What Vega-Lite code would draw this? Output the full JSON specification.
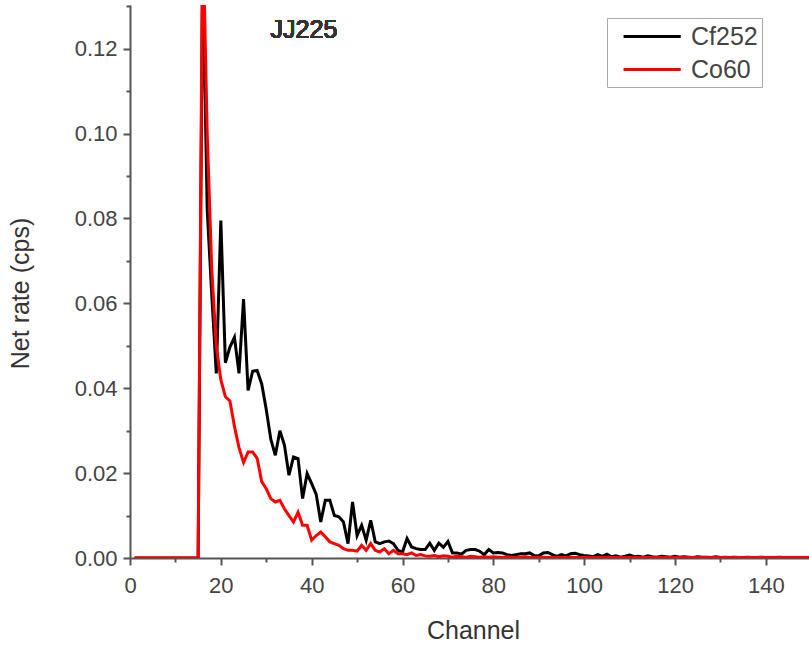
{
  "$schema": "https://vega.github.io/schema/vega-lite/v6.json",
  "autosize": {"type": "none"},
  "padding": {"left": 130, "top": 5, "right": 0, "bottom": 90},
  "width": 679,
  "height": 553,
  "background": "white",
  "config": {
    "font": "Liberation Sans",
    "view": {"stroke": null},
    "axis": {
      "domainColor": "#555",
      "domainWidth": 2,
      "tickColor": "#555",
      "tickWidth": 2,
      "grid": false,
      "labelFont": "Liberation Sans",
      "labelFontSize": 22,
      "labelColor": "#444",
      "labelFlush": false,
      "titleFont": "Liberation Sans",
      "titleFontSize": 25,
      "titleFontWeight": "normal",
      "titleColor": "#333"
    }
  },
  "datasets": {
    "spec": [
      {"ch":1,"series":"Cf252","rate":0},{"ch":2,"series":"Cf252","rate":0},{"ch":3,"series":"Cf252","rate":0},{"ch":4,"series":"Cf252","rate":0},{"ch":5,"series":"Cf252","rate":0},
      {"ch":6,"series":"Cf252","rate":0},{"ch":7,"series":"Cf252","rate":0},{"ch":8,"series":"Cf252","rate":0},{"ch":9,"series":"Cf252","rate":0},{"ch":10,"series":"Cf252","rate":0},
      {"ch":11,"series":"Cf252","rate":0},{"ch":12,"series":"Cf252","rate":0},{"ch":13,"series":"Cf252","rate":0},{"ch":14,"series":"Cf252","rate":0},{"ch":15,"series":"Cf252","rate":0},
      {"ch":16,"series":"Cf252","rate":0.14},{"ch":17,"series":"Cf252","rate":0.082},{"ch":18,"series":"Cf252","rate":0.062},{"ch":19,"series":"Cf252","rate":0.0435},{"ch":20,"series":"Cf252","rate":0.0795},
      {"ch":21,"series":"Cf252","rate":0.046},{"ch":22,"series":"Cf252","rate":0.0497},{"ch":23,"series":"Cf252","rate":0.052},{"ch":24,"series":"Cf252","rate":0.0435},{"ch":25,"series":"Cf252","rate":0.061},
      {"ch":26,"series":"Cf252","rate":0.0395},{"ch":27,"series":"Cf252","rate":0.044},{"ch":28,"series":"Cf252","rate":0.0442},{"ch":29,"series":"Cf252","rate":0.041},{"ch":30,"series":"Cf252","rate":0.035},
      {"ch":31,"series":"Cf252","rate":0.028},{"ch":32,"series":"Cf252","rate":0.0242},{"ch":33,"series":"Cf252","rate":0.030},{"ch":34,"series":"Cf252","rate":0.0266},{"ch":35,"series":"Cf252","rate":0.0195},
      {"ch":36,"series":"Cf252","rate":0.0238},{"ch":37,"series":"Cf252","rate":0.0234},{"ch":38,"series":"Cf252","rate":0.014},{"ch":39,"series":"Cf252","rate":0.0199},{"ch":40,"series":"Cf252","rate":0.0175},
      {"ch":41,"series":"Cf252","rate":0.015},{"ch":42,"series":"Cf252","rate":0.0085},{"ch":43,"series":"Cf252","rate":0.0136},{"ch":44,"series":"Cf252","rate":0.0136},{"ch":45,"series":"Cf252","rate":0.010},
      {"ch":46,"series":"Cf252","rate":0.0097},{"ch":47,"series":"Cf252","rate":0.0085},{"ch":48,"series":"Cf252","rate":0.0034},{"ch":49,"series":"Cf252","rate":0.0132},{"ch":50,"series":"Cf252","rate":0.0053},
      {"ch":51,"series":"Cf252","rate":0.0077},{"ch":52,"series":"Cf252","rate":0.0042},{"ch":53,"series":"Cf252","rate":0.0089},{"ch":54,"series":"Cf252","rate":0.0038},{"ch":55,"series":"Cf252","rate":0.0034},
      {"ch":56,"series":"Cf252","rate":0.0038},{"ch":57,"series":"Cf252","rate":0.004},{"ch":58,"series":"Cf252","rate":0.0034},{"ch":59,"series":"Cf252","rate":0.0018},{"ch":60,"series":"Cf252","rate":0.0014},
      {"ch":61,"series":"Cf252","rate":0.0046},{"ch":62,"series":"Cf252","rate":0.0026},{"ch":63,"series":"Cf252","rate":0.0022},{"ch":64,"series":"Cf252","rate":0.002},{"ch":65,"series":"Cf252","rate":0.002},
      {"ch":66,"series":"Cf252","rate":0.0035},{"ch":67,"series":"Cf252","rate":0.0018},{"ch":68,"series":"Cf252","rate":0.0035},{"ch":69,"series":"Cf252","rate":0.0025},{"ch":70,"series":"Cf252","rate":0.0039},
      {"ch":71,"series":"Cf252","rate":0.0012},{"ch":72,"series":"Cf252","rate":0.0012},{"ch":73,"series":"Cf252","rate":0.0009},{"ch":74,"series":"Cf252","rate":0.0018},{"ch":75,"series":"Cf252","rate":0.002},
      {"ch":76,"series":"Cf252","rate":0.002},{"ch":77,"series":"Cf252","rate":0.0016},{"ch":78,"series":"Cf252","rate":0.0008},{"ch":79,"series":"Cf252","rate":0.002},{"ch":80,"series":"Cf252","rate":0.0012},
      {"ch":81,"series":"Cf252","rate":0.0013},{"ch":82,"series":"Cf252","rate":0.0012},{"ch":83,"series":"Cf252","rate":0.0008},{"ch":84,"series":"Cf252","rate":0.0006},{"ch":85,"series":"Cf252","rate":0.0008},
      {"ch":86,"series":"Cf252","rate":0.001},{"ch":87,"series":"Cf252","rate":0.001},{"ch":88,"series":"Cf252","rate":0.0012},{"ch":89,"series":"Cf252","rate":0.0006},{"ch":90,"series":"Cf252","rate":0.0005},
      {"ch":91,"series":"Cf252","rate":0.0012},{"ch":92,"series":"Cf252","rate":0.0013},{"ch":93,"series":"Cf252","rate":0.0008},{"ch":94,"series":"Cf252","rate":0.0004},{"ch":95,"series":"Cf252","rate":0.0008},
      {"ch":96,"series":"Cf252","rate":0.0005},{"ch":97,"series":"Cf252","rate":0.001},{"ch":98,"series":"Cf252","rate":0.0011},{"ch":99,"series":"Cf252","rate":0.0008},{"ch":100,"series":"Cf252","rate":0.0006},
      {"ch":101,"series":"Cf252","rate":0.0005},{"ch":102,"series":"Cf252","rate":0.0003},{"ch":103,"series":"Cf252","rate":0.0008},{"ch":104,"series":"Cf252","rate":0.0004},{"ch":105,"series":"Cf252","rate":0.0009},
      {"ch":106,"series":"Cf252","rate":0.0003},{"ch":107,"series":"Cf252","rate":0.0005},{"ch":108,"series":"Cf252","rate":0.0002},{"ch":109,"series":"Cf252","rate":0.0004},{"ch":110,"series":"Cf252","rate":0.0007},
      {"ch":111,"series":"Cf252","rate":0.0003},{"ch":112,"series":"Cf252","rate":0.0004},{"ch":113,"series":"Cf252","rate":0.0002},{"ch":114,"series":"Cf252","rate":0.0005},{"ch":115,"series":"Cf252","rate":0.0003},
      {"ch":116,"series":"Cf252","rate":0.0002},{"ch":117,"series":"Cf252","rate":0.0004},{"ch":118,"series":"Cf252","rate":0.0003},{"ch":119,"series":"Cf252","rate":0.0002},{"ch":120,"series":"Cf252","rate":0.0004},
      {"ch":121,"series":"Cf252","rate":0.0002},{"ch":122,"series":"Cf252","rate":0.0003},{"ch":123,"series":"Cf252","rate":0.0002},{"ch":124,"series":"Cf252","rate":0.0001},{"ch":125,"series":"Cf252","rate":0.0003},
      {"ch":126,"series":"Cf252","rate":0.0002},{"ch":127,"series":"Cf252","rate":0.0002},{"ch":128,"series":"Cf252","rate":0.0001},{"ch":129,"series":"Cf252","rate":0.0003},{"ch":130,"series":"Cf252","rate":0.0001},
      {"ch":131,"series":"Cf252","rate":0.0002},{"ch":132,"series":"Cf252","rate":0.0001},{"ch":133,"series":"Cf252","rate":0.0002},{"ch":134,"series":"Cf252","rate":0.0001},{"ch":135,"series":"Cf252","rate":0.0001},
      {"ch":136,"series":"Cf252","rate":0.0002},{"ch":137,"series":"Cf252","rate":0.0001},{"ch":138,"series":"Cf252","rate":0.0001},{"ch":139,"series":"Cf252","rate":0.0002},{"ch":140,"series":"Cf252","rate":0.0001},
      {"ch":141,"series":"Cf252","rate":0.0001},{"ch":142,"series":"Cf252","rate":0.0001},{"ch":143,"series":"Cf252","rate":0.0002},{"ch":144,"series":"Cf252","rate":0.0001},{"ch":145,"series":"Cf252","rate":0.0001},
      {"ch":146,"series":"Cf252","rate":0.0001},{"ch":147,"series":"Cf252","rate":0.0001},{"ch":148,"series":"Cf252","rate":0.0001},{"ch":149,"series":"Cf252","rate":0.0001},{"ch":150,"series":"Cf252","rate":0.0001},

      {"ch":1,"series":"Co60","rate":0},{"ch":2,"series":"Co60","rate":0},{"ch":3,"series":"Co60","rate":0},{"ch":4,"series":"Co60","rate":0},{"ch":5,"series":"Co60","rate":0},
      {"ch":6,"series":"Co60","rate":0},{"ch":7,"series":"Co60","rate":0},{"ch":8,"series":"Co60","rate":0},{"ch":9,"series":"Co60","rate":0},{"ch":10,"series":"Co60","rate":0},
      {"ch":11,"series":"Co60","rate":0},{"ch":12,"series":"Co60","rate":0},{"ch":13,"series":"Co60","rate":0},{"ch":14,"series":"Co60","rate":0},{"ch":15,"series":"Co60","rate":0},
      {"ch":16,"series":"Co60","rate":0.15},{"ch":17,"series":"Co60","rate":0.1},{"ch":18,"series":"Co60","rate":0.068},{"ch":19,"series":"Co60","rate":0.05},{"ch":20,"series":"Co60","rate":0.042},
      {"ch":21,"series":"Co60","rate":0.038},{"ch":22,"series":"Co60","rate":0.037},{"ch":23,"series":"Co60","rate":0.031},{"ch":24,"series":"Co60","rate":0.026},{"ch":25,"series":"Co60","rate":0.0225},
      {"ch":26,"series":"Co60","rate":0.025},{"ch":27,"series":"Co60","rate":0.025},{"ch":28,"series":"Co60","rate":0.0235},{"ch":29,"series":"Co60","rate":0.018},{"ch":30,"series":"Co60","rate":0.0163},
      {"ch":31,"series":"Co60","rate":0.014},{"ch":32,"series":"Co60","rate":0.0132},{"ch":33,"series":"Co60","rate":0.0136},{"ch":34,"series":"Co60","rate":0.0116},{"ch":35,"series":"Co60","rate":0.010},
      {"ch":36,"series":"Co60","rate":0.0085},{"ch":37,"series":"Co60","rate":0.0108},{"ch":38,"series":"Co60","rate":0.0077},{"ch":39,"series":"Co60","rate":0.0077},{"ch":40,"series":"Co60","rate":0.0042},
      {"ch":41,"series":"Co60","rate":0.0053},{"ch":42,"series":"Co60","rate":0.0061},{"ch":43,"series":"Co60","rate":0.005},{"ch":44,"series":"Co60","rate":0.0038},{"ch":45,"series":"Co60","rate":0.0034},
      {"ch":46,"series":"Co60","rate":0.003},{"ch":47,"series":"Co60","rate":0.0022},{"ch":48,"series":"Co60","rate":0.0018},{"ch":49,"series":"Co60","rate":0.0018},{"ch":50,"series":"Co60","rate":0.0016},
      {"ch":51,"series":"Co60","rate":0.003},{"ch":52,"series":"Co60","rate":0.0018},{"ch":53,"series":"Co60","rate":0.0034},{"ch":54,"series":"Co60","rate":0.0018},{"ch":55,"series":"Co60","rate":0.0014},
      {"ch":56,"series":"Co60","rate":0.0022},{"ch":57,"series":"Co60","rate":0.001},{"ch":58,"series":"Co60","rate":0.0018},{"ch":59,"series":"Co60","rate":0.001},{"ch":60,"series":"Co60","rate":0.001},
      {"ch":61,"series":"Co60","rate":0.0008},{"ch":62,"series":"Co60","rate":0.0012},{"ch":63,"series":"Co60","rate":0.0006},{"ch":64,"series":"Co60","rate":0.0008},{"ch":65,"series":"Co60","rate":0.0005},
      {"ch":66,"series":"Co60","rate":0.0004},{"ch":67,"series":"Co60","rate":0.0006},{"ch":68,"series":"Co60","rate":0.0003},{"ch":69,"series":"Co60","rate":0.0005},{"ch":70,"series":"Co60","rate":0.0004},
      {"ch":71,"series":"Co60","rate":0.0002},{"ch":72,"series":"Co60","rate":0.0004},{"ch":73,"series":"Co60","rate":0.0003},{"ch":74,"series":"Co60","rate":0.0002},{"ch":75,"series":"Co60","rate":0.0004},
      {"ch":76,"series":"Co60","rate":0.0003},{"ch":77,"series":"Co60","rate":0.0002},{"ch":78,"series":"Co60","rate":0.0003},{"ch":79,"series":"Co60","rate":0.0002},{"ch":80,"series":"Co60","rate":0.0003},
      {"ch":81,"series":"Co60","rate":0.0002},{"ch":82,"series":"Co60","rate":0.0001},{"ch":83,"series":"Co60","rate":0.0003},{"ch":84,"series":"Co60","rate":0.0002},{"ch":85,"series":"Co60","rate":0.0001},
      {"ch":86,"series":"Co60","rate":0.0002},{"ch":87,"series":"Co60","rate":0.0003},{"ch":88,"series":"Co60","rate":0.0001},{"ch":89,"series":"Co60","rate":0.0002},{"ch":90,"series":"Co60","rate":0.0001},
      {"ch":91,"series":"Co60","rate":0.0002},{"ch":92,"series":"Co60","rate":0.0001},{"ch":93,"series":"Co60","rate":0.0001},{"ch":94,"series":"Co60","rate":0.0002},{"ch":95,"series":"Co60","rate":0.0001},
      {"ch":96,"series":"Co60","rate":0.0001},{"ch":97,"series":"Co60","rate":0.0002},{"ch":98,"series":"Co60","rate":0.0001},{"ch":99,"series":"Co60","rate":0.0001},{"ch":100,"series":"Co60","rate":0.0001},
      {"ch":101,"series":"Co60","rate":0.0002},{"ch":102,"series":"Co60","rate":0.0001},{"ch":103,"series":"Co60","rate":0.0001},{"ch":104,"series":"Co60","rate":0.0001},{"ch":105,"series":"Co60","rate":0.0002},
      {"ch":106,"series":"Co60","rate":0.0001},{"ch":107,"series":"Co60","rate":0.0001},{"ch":108,"series":"Co60","rate":0.0001},{"ch":109,"series":"Co60","rate":0.0001},{"ch":110,"series":"Co60","rate":0.0002},
      {"ch":111,"series":"Co60","rate":0.0001},{"ch":112,"series":"Co60","rate":0.0001},{"ch":113,"series":"Co60","rate":0.0001},{"ch":114,"series":"Co60","rate":0.0001},{"ch":115,"series":"Co60","rate":0.0001},
      {"ch":116,"series":"Co60","rate":0.0001},{"ch":117,"series":"Co60","rate":0.0002},{"ch":118,"series":"Co60","rate":0.0001},{"ch":119,"series":"Co60","rate":0.0001},{"ch":120,"series":"Co60","rate":0.0001},
      {"ch":121,"series":"Co60","rate":0.0001},{"ch":122,"series":"Co60","rate":0.0001},{"ch":123,"series":"Co60","rate":0.0001},{"ch":124,"series":"Co60","rate":0.0001},{"ch":125,"series":"Co60","rate":0.0001},
      {"ch":126,"series":"Co60","rate":0.0001},{"ch":127,"series":"Co60","rate":0.0001},{"ch":128,"series":"Co60","rate":0.0001},{"ch":129,"series":"Co60","rate":0.0001},{"ch":130,"series":"Co60","rate":0.0001},
      {"ch":131,"series":"Co60","rate":0.0001},{"ch":132,"series":"Co60","rate":0.0001},{"ch":133,"series":"Co60","rate":0.0001},{"ch":134,"series":"Co60","rate":0.0001},{"ch":135,"series":"Co60","rate":0.0001},
      {"ch":136,"series":"Co60","rate":0.0001},{"ch":137,"series":"Co60","rate":0.0001},{"ch":138,"series":"Co60","rate":0.0001},{"ch":139,"series":"Co60","rate":0.0001},{"ch":140,"series":"Co60","rate":0.0001},
      {"ch":141,"series":"Co60","rate":0.0001},{"ch":142,"series":"Co60","rate":0.0001},{"ch":143,"series":"Co60","rate":0.0001},{"ch":144,"series":"Co60","rate":0.0001},{"ch":145,"series":"Co60","rate":0.0001},
      {"ch":146,"series":"Co60","rate":0.0001},{"ch":147,"series":"Co60","rate":0.0001},{"ch":148,"series":"Co60","rate":0.0001},{"ch":149,"series":"Co60","rate":0.0001},{"ch":150,"series":"Co60","rate":0.0001}
    ]
  },
  "data": {"name": "spec"},
  "encoding": {
    "x": {
      "field": "ch", "type": "quantitative",
      "scale": {"domain": [0, 149.5], "nice": false, "zero": false},
      "axis": {
        "title": "Channel",
        "values": [0,10,20,30,40,50,60,70,80,90,100,110,120,130,140],
        "labelExpr": "datum.value % 20 === 0 ? datum.label : ''",
        "tickSize": {"condition": {"test": "datum.value % 20 === 0", "value": 7}, "value": 4},
        "labelPadding": 10,
        "titleX": 343, "titleY": 72, "titleBaseline": "middle", "titleAlign": "center"
      }
    },
    "y": {
      "field": "rate", "type": "quantitative",
      "scale": {"domain": [0, 0.1303], "nice": false},
      "axis": {
        "title": "Net rate (cps)",
        "values": [0,0.01,0.02,0.03,0.04,0.05,0.06,0.07,0.08,0.09,0.1,0.11,0.12,0.13],
        "format": ".2f",
        "labelExpr": "round(datum.value*100) % 2 === 0 ? datum.label : ''",
        "tickSize": {"condition": {"test": "round(datum.value*100) % 2 === 0", "value": 7}, "value": 4},
        "labelPadding": 6,
        "titleX": -110, "titleY": 288, "titleBaseline": "middle", "titleAlign": "center"
      }
    }
  },
  "layer": [
    {
      "transform": [{"filter": "datum.series === 'Cf252'"}],
      "mark": {"type": "line", "strokeWidth": 3, "clip": true, "strokeJoin": "miter"},
      "encoding": {
        "color": {"field": "series", "type": "nominal",
          "scale": {"domain": ["Cf252", "Co60"], "range": ["#000000", "#ff0000"]},
          "legend": {
            "title": null, "orient": "none", "legendX": 477, "legendY": 13,
            "strokeColor": "#aaa", "fillColor": "white", "padding": 4,
            "symbolType": "M-0.15,0H4.25", "symbolStrokeWidth": 3, "symbolSize": 676,
            "labelFontSize": 25, "labelFont": "Liberation Sans", "labelColor": "#444",
            "labelOffset": 51, "rowPadding": 5
          }
        }
      }
    },
    {
      "transform": [{"filter": "datum.series === 'Co60'"}],
      "mark": {"type": "line", "strokeWidth": 3, "clip": true, "strokeJoin": "miter"},
      "encoding": {
        "color": {"field": "series", "type": "nominal"}
      }
    },
    {
      "mark": {"type": "text", "fontSize": 25, "font": "Liberation Sans", "fill": "#333", "strokeWidth": 0, "align": "center", "baseline": "middle"},
      "encoding": {
        "x": {"datum": 38.3},
        "y": {"datum": 0.1243},
        "text": {"value": "JJ225"}
      }
    }
  ]
}
